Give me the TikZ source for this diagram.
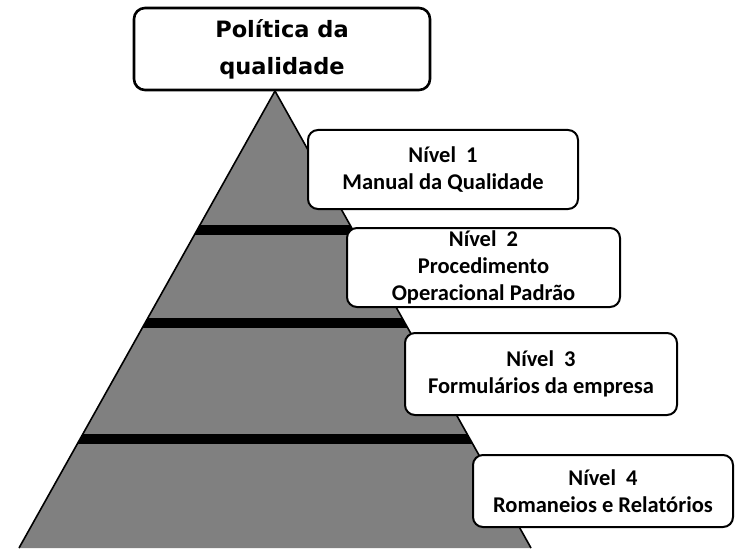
\documentclass[tikz,border=0pt]{standalone}
\usepackage{fontspec}
\setmainfont{Carlito}
\newfontfamily\topfont{DejaVu Sans}
\definecolor{pyrgray}{RGB}{128,128,128}
\tikzset{
  levelbox/.style={draw=black, line width=2pt, fill=white, rounded corners=10pt,
    align=center, inner sep=0pt, font=\fontsize{22.5}{27}\selectfont\bfseries},
  topbox/.style={draw=black, line width=2.6pt, fill=white, rounded corners=11pt,
    align=center, inner sep=0pt, font=\topfont\fontsize{22.5}{37}\selectfont\bfseries},
  bar/.style={line width=10pt, black}
}
\newcommand{\nivgap}{\hspace{0.45em}}
\begin{document}
\begin{tikzpicture}[x=1pt,y=-1pt]
\useasboundingbox (0,0) rectangle (735,548);
% pyramid
\coordinate (apex) at (275,91);
\coordinate (bl) at (19,548);
\coordinate (br) at (531,548);
\fill[pyrgray] (apex) -- (bl) -- (br) -- cycle;
\begin{scope}
  \clip (apex) -- (bl) -- (br) -- cycle;
  \draw[bar] (0,230) -- (735,230);
  \draw[bar] (0,323) -- (735,323);
  \draw[bar] (0,439) -- (735,439);
\end{scope}
\draw[black, line width=1.6pt, line join=round] (bl) -- (apex) -- (br);
% boxes
\node[topbox, minimum width=296pt, minimum height=82pt] (top) at (282,49) {Política da\\qualidade};
\node[levelbox, minimum width=270pt, minimum height=79pt] (n1) at (443,169.5) {Nível\nivgap 1\\Manual da Qualidade};
\node[levelbox, minimum width=273pt, minimum height=79pt] (n2) at (483.5,267.5) {Nível\nivgap 2\\Procedimento\\Operacional Padrão};
\node[levelbox, minimum width=272pt, minimum height=82pt] (n3) at (541,374) {Nível\nivgap 3\\Formulários da empresa};
\node[levelbox, minimum width=260pt, minimum height=72pt] (n4) at (603,491) {Nível\nivgap 4\\Romaneios e Relatórios};
\end{tikzpicture}
\end{document}
